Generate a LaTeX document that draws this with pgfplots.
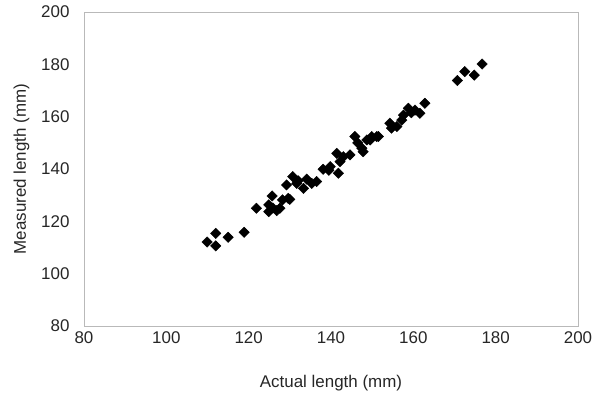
\documentclass[border=0pt]{standalone}
\usepackage{pgfplots}
\pgfplotsset{compat=1.18}
\usepackage{fontspec}
\setmainfont{Liberation Sans}
\begin{document}
\begin{tikzpicture}
\begin{axis}[
  name=ax,
  scale only axis,
  width=494bp, height=314bp,
  xmin=80, xmax=200, ymin=80, ymax=200,
  xtick={80,100,...,200}, ytick={80,100,...,200},
  major tick length=0pt,
  x axis line style={gray!20, line width=0.5pt},
  y axis line style={gray!55, line width=0.5pt},
  /pgf/number format/assume math mode=true,
  ticklabel style={font=\fontsize{17}{20}\selectfont, text=black!85},
  label style={font=\fontsize{17}{20}\selectfont, text=black!85},
  xlabel={Actual length (mm)},
  ylabel={Measured length (mm)},
  xticklabel style={yshift=-2bp},
  yticklabel style={xshift=-11bp},
  xlabel style={yshift=-25bp},
  ylabel style={yshift=5bp},
]
\addplot[only marks, mark=square*, mark size=3.7pt, mark options={rotate=45, fill=black, draw=black}] coordinates {
(109.9,112.1) (112.0,115.4) (112.0,110.6) (115.0,113.9) (118.9,115.8)
(121.9,125.0) (125.7,129.7) (124.9,126.3) (124.9,123.7) (126.8,124.1)
(125.9,125.1) (128.2,128.2) (130.0,128.4) (127.6,125.0) (129.6,128.8)
(129.2,133.9) (130.7,137.1) (131.7,134.5) (133.3,132.6) (134.1,136.1)
(135.3,134.5) (136.5,135.2) (138.1,139.9) (139.8,140.9) (141.4,146.0)
(142.2,142.8) (141.8,138.4) (143.0,144.7) (144.6,145.4) (145.8,152.4)
(147.5,147.9) (148.7,151.1) (149.9,152.4) (151.5,152.4) (147.8,146.6)
(149.5,151.1) (151.1,152.4) (154.7,155.6) (154.3,157.5) (156.0,156.2)
(157.2,158.7) (157.6,160.6) (158.8,163.2) (160.4,162.5) (161.6,161.3)
(162.8,165.1) (170.7,173.8) (172.5,177.2) (174.8,175.9) (176.7,180.1)
(146.5,150.0) (139.5,139.5) (132.0,135.5) (159.5,161.5)
};
\end{axis}
\path[use as bounding box] ([xshift=-84bp,yshift=-75bp]ax.south west) rectangle ([xshift=23bp,yshift=12bp]ax.north east);
\end{tikzpicture}
\end{document}
